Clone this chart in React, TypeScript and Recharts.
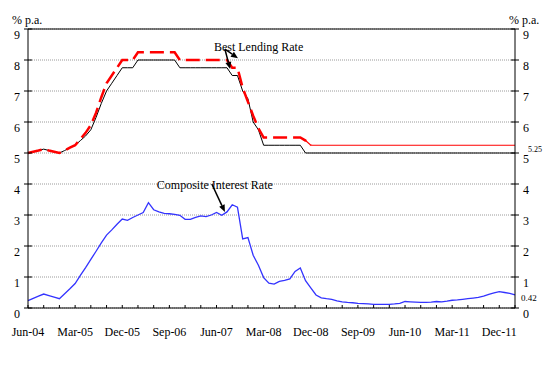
import React from 'react';
import { LineChart, Line, XAxis, YAxis, CartesianGrid, ReferenceLine, ReferenceDot } from 'recharts';

// monthly, Jun-04 (m = 0) .. Mar-12 (m = 93)
const TICK_LABELS = ['Jun-04', 'Mar-05', 'Dec-05', 'Sep-06', 'Jun-07', 'Mar-08', 'Dec-08', 'Sep-09', 'Jun-10', 'Mar-11', 'Dec-11'];
const Y_TICKS = [0, 1, 2, 3, 4, 5, 6, 7, 8, 9];

const compositeRate = [
  0.24, 0.31, 0.38, 0.45, 0.4, 0.35, 0.3, 0.46, 0.62, 0.79,
  1.05, 1.3, 1.57, 1.83, 2.1, 2.35, 2.52, 2.7, 2.87, 2.83,
  2.92, 3.0, 3.08, 3.4, 3.17, 3.1, 3.05, 3.04, 3.02, 2.99,
  2.86, 2.86, 2.92, 2.97, 2.95, 3.0, 3.08, 2.99, 3.1, 3.33,
  3.25, 2.23, 2.27, 1.7, 1.38, 0.98, 0.8, 0.77, 0.86, 0.89,
  0.94, 1.18, 1.29, 0.88, 0.65, 0.42, 0.33, 0.3, 0.28, 0.23,
  0.2, 0.18, 0.17, 0.15, 0.14, 0.13, 0.12, 0.12, 0.12, 0.12,
  0.13, 0.15, 0.21, 0.2, 0.19, 0.18, 0.18, 0.19, 0.21, 0.2,
  0.22, 0.25, 0.26, 0.28, 0.3, 0.32, 0.34, 0.38, 0.44, 0.49,
  0.53, 0.5, 0.47, 0.42,
];

const blrLower = [
  5.0, 5.04, 5.08, 5.125, 5.08, 5.04, 5.0, 5.08, 5.17, 5.25,
  5.4, 5.55, 5.75, 6.15, 6.6, 7.0, 7.25, 7.5, 7.75, 7.75,
  7.75, 8.0, 8.0, 8.0, 8.0, 8.0, 8.0, 8.0, 8.0, 7.75,
  7.75, 7.75, 7.75, 7.75, 7.75, 7.75, 7.75, 7.75, 7.75, 7.5,
  7.5, 7.0, 6.75, 6.0, 5.75, 5.25, 5.25, 5.25, 5.25, 5.25,
  5.25, 5.25, 5.25, 5.0, 5.0, 5.0, 5.0, 5.0, 5.0, 5.0,
  5.0, 5.0, 5.0, 5.0, 5.0, 5.0, 5.0, 5.0, 5.0, 5.0,
  5.0, 5.0, 5.0, 5.0, 5.0, 5.0, 5.0, 5.0, 5.0, 5.0,
  5.0, 5.0, 5.0, 5.0, 5.0, 5.0, 5.0, 5.0, 5.0, 5.0,
  5.0, 5.0, 5.0, 5.0,
];

const blrUpper = [
  5.0, 5.04, 5.08, 5.125, 5.08, 5.04, 5.0, 5.08, 5.17, 5.25,
  5.45, 5.65, 5.9, 6.3, 6.8, 7.25, 7.5, 7.75, 8.0, 8.0,
  8.0, 8.25, 8.25, 8.25, 8.25, 8.25, 8.25, 8.25, 8.25, 8.0,
  8.0, 8.0, 8.0, 8.0, 8.0, 8.0, 8.0, 8.0, 8.0, 7.75,
  7.75, 7.1, 6.65, 6.2, 5.8, 5.5, 5.5, 5.5, 5.5, 5.5,
  5.5, 5.5, 5.5, 5.4, 5.25, 5.25, 5.25, 5.25, 5.25, 5.25,
  5.25, 5.25, 5.25, 5.25, 5.25, 5.25, 5.25, 5.25, 5.25, 5.25,
  5.25, 5.25, 5.25, 5.25, 5.25, 5.25, 5.25, 5.25, 5.25, 5.25,
  5.25, 5.25, 5.25, 5.25, 5.25, 5.25, 5.25, 5.25, 5.25, 5.25,
  5.25, 5.25, 5.25, 5.25,
];

// the upper rate is drawn dashed up to Dec-08, then as a thin solid line
const DASH_END = 54;
const SOLID_START = 52;

const data = compositeRate.map((v, m) => ({
  m,
  composite: v,
  lower: blrLower[m],
  upperDashed: m <= DASH_END ? blrUpper[m] : null,
  upperSolid: m >= SOLID_START ? blrUpper[m] : null,
}));

const LAST = compositeRate.length - 1;
const X_TICKS = Array.from({ length: LAST / 3 + 1 }, (_, k) => k * 3);

const FONT = "'Liberation Serif', 'DejaVu Serif', serif";

const MonthTick = (props: any) => {
  const { x, y, payload } = props;
  const m = payload.value;
  const label = m % 9 === 0 ? TICK_LABELS[m / 9] : null;
  return (
    <g>
      <line x1={x} x2={x} y1={y} y2={y - 3} stroke="#000" />
      {label && (
        <text x={x} y={y + 28} textAnchor="middle" style={{ fontSize: 12, fontFamily: FONT }} fill="#000">
          {label}
        </text>
      )}
    </g>
  );
};

const LeftTick = (props: any) => {
  const { x, y, payload } = props;
  return (
    <g>
      <line x1={x - 4} x2={x + 4} y1={y} y2={y} stroke="#000" />
      <text x={x - 8} y={y + 10} textAnchor="end" style={{ fontSize: 12, fontFamily: FONT }} fill="#000">
        {payload.value}
      </text>
    </g>
  );
};

const RightTick = (props: any) => {
  const { x, y, payload } = props;
  return (
    <g>
      <line x1={x - 4} x2={x + 4} y1={y} y2={y} stroke="#000" />
      <text x={x + 8} y={y + 10} textAnchor="start" style={{ fontSize: 12, fontFamily: FONT }} fill="#000">
        {payload.value}
      </text>
    </g>
  );
};

const Arrow = (props: any) => {
  const { x1, y1, x2, y2 } = props;
  const ang = Math.atan2(y2 - y1, x2 - x1);
  const len = 7;
  const w = 3;
  const bx = x2 - len * Math.cos(ang);
  const by = y2 - len * Math.sin(ang);
  const px = -Math.sin(ang) * w;
  const py = Math.cos(ang) * w;
  return (
    <g>
      <line x1={x1} y1={y1} x2={bx} y2={by} stroke="#000" strokeWidth={1.5} />
      <polygon points={`${x2},${y2} ${bx + px},${by + py} ${bx - px},${by - py}`} fill="#000" />
    </g>
  );
};

const note = (text: string, dx: number, dy: number, size: number) => (p: any) => (
  <text x={p.cx + dx} y={p.cy + dy} style={{ fontSize: size, fontFamily: FONT }} fill="#000">
    {text}
  </text>
);

const unitStyle: React.CSSProperties = {
  position: 'absolute',
  top: 14,
  fontFamily: FONT,
  fontSize: 12,
  lineHeight: '12px',
  color: '#000',
};

export default function App() {
  return (
    <div style={{ position: 'absolute', left: 0, top: 0, width: 555, height: 368, background: '#fff', fontFamily: FONT }}>
      <LineChart width={555} height={368} data={data} margin={{ top: 29, right: 0, bottom: 0, left: 0 }}>
        <CartesianGrid yAxisId="left" vertical={false} stroke="#9a9a9a" strokeDasharray="1 1" />
        <XAxis
          type="number"
          dataKey="m"
          domain={[0, LAST]}
          ticks={X_TICKS}
          interval={0}
          tick={<MonthTick />}
          tickLine={false}
          tickSize={0}
          tickMargin={0}
          axisLine={{ stroke: '#000' }}
          height={60}
        />
        <YAxis
          yAxisId="left"
          domain={[0, 9]}
          ticks={Y_TICKS}
          interval={0}
          tick={<LeftTick />}
          tickLine={false}
          tickSize={0}
          tickMargin={0}
          axisLine={{ stroke: '#000' }}
          width={28}
        />
        <YAxis
          yAxisId="right"
          orientation="right"
          domain={[0, 9]}
          ticks={Y_TICKS}
          interval={0}
          tick={<RightTick />}
          tickLine={false}
          tickSize={0}
          tickMargin={0}
          axisLine={{ stroke: '#000' }}
          width={40}
        />
        <ReferenceLine yAxisId="left" y={9} stroke="#000" />
        <Line yAxisId="left" dataKey="lower" stroke="#000" strokeWidth={1} dot={false} isAnimationActive={false} />
        <Line yAxisId="left" dataKey="upperSolid" stroke="#ff0000" strokeWidth={1.2} dot={false} isAnimationActive={false} />
        <Line
          yAxisId="left"
          dataKey="upperDashed"
          stroke="#ff0000"
          strokeWidth={2.5}
          strokeDasharray="14 6"
          dot={false}
          isAnimationActive={false}
        />
        <Line yAxisId="right" dataKey="composite" stroke="#3333ff" strokeWidth={1.3} dot={false} isAnimationActive={false} />

        <ReferenceDot yAxisId="left" x={35.5} y={8.29} shape={note('Best Lending Rate', 0, 0, 12)} />
        <ReferenceLine yAxisId="left" segment={[{ x: 37.6, y: 8.35 }, { x: 40.1, y: 8.06 }]} shape={Arrow} />
        <ReferenceLine yAxisId="left" segment={[{ x: 37.6, y: 8.35 }, { x: 38.6, y: 7.71 }]} shape={Arrow} />

        <ReferenceDot yAxisId="left" x={24.6} y={3.84} shape={note('Composite Interest Rate', 0, 0, 12)} />
        <ReferenceLine yAxisId="left" segment={[{ x: 35.1, y: 4.0 }, { x: 37.6, y: 3.1 }]} shape={Arrow} />

        <ReferenceDot yAxisId="left" x={LAST} y={blrUpper[LAST]} shape={note(String(blrUpper[LAST]), 13, 7, 8)} />
        <ReferenceDot yAxisId="right" x={LAST} y={compositeRate[LAST]} shape={note(String(compositeRate[LAST]), 6, 6.5, 9)} />
      </LineChart>
      <div style={{ ...unitStyle, left: 12 }}>% p.a.</div>
      <div style={{ ...unitStyle, left: 509 }}>% p.a.</div>
    </div>
  );
}
